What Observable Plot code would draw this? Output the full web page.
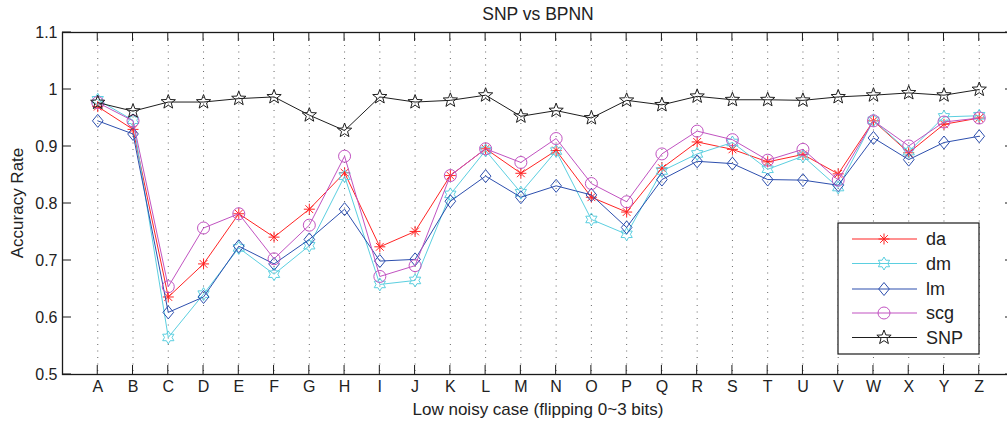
<!DOCTYPE html>
<html><head><meta charset="utf-8">
<script src="https://cdn.jsdelivr.net/npm/d3@7"></script>
<script src="https://cdn.jsdelivr.net/npm/@observablehq/plot@0.6"></script>
<style>html,body{margin:0;padding:0;background:#fff;overflow:hidden;width:1007px;height:424px}
#chart svg{display:block;max-width:none !important;width:1022px;height:424px}</style>
</head><body><div id="chart"></div>
<script>
const categories = ["A","B","C","D","E","F","G","H","I","J","K","L","M","N","O","P","Q","R","S","T","U","V","W","X","Y","Z"];
const da  = [0.970,0.930,0.636,0.694,0.782,0.741,0.790,0.854,0.724,0.751,0.849,0.896,0.853,0.893,0.811,0.785,0.862,0.908,0.895,0.873,0.886,0.852,0.945,0.889,0.939,0.950];
const dm  = [0.982,0.946,0.565,0.641,0.722,0.676,0.726,0.848,0.658,0.665,0.816,0.893,0.819,0.892,0.772,0.746,0.857,0.887,0.907,0.860,0.883,0.828,0.946,0.891,0.952,0.954];
const lm  = [0.945,0.922,0.609,0.636,0.725,0.694,0.737,0.790,0.699,0.702,0.804,0.848,0.811,0.831,0.815,0.758,0.842,0.874,0.870,0.842,0.841,0.832,0.915,0.877,0.907,0.918];
const scg = [0.977,0.945,0.654,0.757,0.782,0.703,0.762,0.883,0.672,0.691,0.849,0.896,0.872,0.914,0.835,0.803,0.887,0.927,0.912,0.876,0.895,0.841,0.945,0.901,0.943,0.950];
const snp = [0.977,0.962,0.978,0.978,0.984,0.987,0.955,0.928,0.987,0.978,0.981,0.990,0.953,0.963,0.950,0.981,0.973,0.988,0.982,0.982,0.981,0.987,0.990,0.994,0.990,1.000];
const seriesNames = ["da","dm","lm","scg","SNP"];
const seriesValues = [da, dm, lm, scg, snp];
const yTicks = [0.5,0.6,0.7,0.8,0.9,1.0,1.1];
const yTickLabels = ["0.5","0.6","0.7","0.8","0.9","1","1.1"];
const chartTitle = "SNP vs BPNN";
const xLabel = "Low noisy case (flipping 0~3 bits)";
const yLabel = "Accuracy Rate";

// custom MATLAB-like markers
const rOf = s => Math.sqrt(s / Math.PI);
const symAsterisk = {draw(c, s){const r=rOf(s); for(let k=0;k<4;k++){const a=k*Math.PI/4; c.moveTo(r*Math.cos(a), r*Math.sin(a)); c.lineTo(-r*Math.cos(a), -r*Math.sin(a));}}};
function starSym(n, ratio){return {draw(c, s){const r=rOf(s); for(let k=0;k<2*n;k++){const a=-Math.PI/2+k*Math.PI/n; const rr=k%2?r*ratio:r; const px=rr*Math.cos(a), py=rr*Math.sin(a); if(k===0) c.moveTo(px,py); else c.lineTo(px,py);} c.closePath();}};}
const symHex = starSym(6, 0.58);
const symPenta = starSym(5, 0.42);
const symDiamond = {draw(c, s){const r=rOf(s); c.moveTo(0,-r); c.lineTo(0.82*r,0); c.lineTo(0,r); c.lineTo(-0.82*r,0); c.closePath();}};
const symCircle = {draw(c, s){const r=rOf(s); c.moveTo(r,0); c.arc(0,0,r,0,2*Math.PI);}};

const styles = {
  da:  {color:"#ff2424", sym:symAsterisk, r:5.5},
  dm:  {color:"#5bcfe0", sym:symHex, r:6.5},
  lm:  {color:"#2d4fae", sym:symDiamond, r:6.5},
  scg: {color:"#c153c1", sym:symCircle, r:6},
  SNP: {color:"#1e1e1e", sym:symPenta, r:7.5}
};

(function draw(){
const rows = seriesNames.map((name, si) => seriesValues[si].map((v, i) => ({series:name, i:i+1, v})));
const xIdx = categories.map((_, i) => i + 1);

const marks = [
  Plot.gridX(xIdx, {stroke:"#555", strokeOpacity:0.9, strokeDasharray:"1,5.5", strokeWidth:1}),
  Plot.axisX(xIdx, {tickSize:0, tickPadding:6, tickFormat: d => categories[d-1], fontSize:16, label:null}),
  Plot.axisY(yTicks, {tickSize:0, tickPadding:5, tickFormat: d => yTickLabels[yTicks.indexOf(d)], fontSize:16, label:null})
];
rows.forEach(r => {
  const st = styles[r[0].series];
  marks.push(Plot.line(r, {x:"i", y:"v", stroke:st.color, strokeWidth:1}));
  marks.push(Plot.dot(r, {x:"i", y:"v", symbol:st.sym, r:st.r, stroke:st.color, fill:"none", strokeWidth:1}));
});
marks.push(Plot.frame({stroke:"#1a1a1a", strokeWidth:1.3}));

const plot = Plot.plot({
  width: 1022, height: 424,
  marginTop: 32, marginBottom: 50, marginLeft: 62, marginRight: 8,
  style: {fontFamily: "'Liberation Sans', Arial, sans-serif", color:"#222", background:"#fff", maxWidth:"none"},
  x: {type:"linear", domain:[0, 27]},
  y: {domain:[0.5, 1.1]},
  marks
});
document.getElementById("chart").appendChild(plot);

const svg = d3.select(plot);
const xs = plot.scale("x"), ys = plot.scale("y");
const X = v => xs.apply(v), Y = v => ys.apply(v);
const pTop = Y(1.1), pBot = Y(0.5), pLeft = X(0), pRight = X(27);
const tk = svg.append("g").attr("stroke", "#1a1a1a").attr("stroke-width", 1);
xIdx.forEach(i => {
  tk.append("line").attr("x1", X(i)).attr("x2", X(i)).attr("y1", pBot).attr("y2", pBot - 9);
  tk.append("line").attr("x1", X(i)).attr("x2", X(i)).attr("y1", pTop).attr("y2", pTop + 9);
});
yTicks.forEach(v => {
  tk.append("line").attr("x1", pLeft).attr("x2", pLeft + 9).attr("y1", Y(v)).attr("y2", Y(v));
  tk.append("line").attr("x1", pRight).attr("x2", pRight - 9).attr("y1", Y(v)).attr("y2", Y(v));
});
const font = "'Liberation Sans', Arial, sans-serif";
svg.append("text").attr("x", (pLeft + pRight) / 2).attr("y", 20).attr("text-anchor", "middle")
  .attr("font-family", font).attr("font-size", 17.5).attr("fill", "#222").text(chartTitle);
svg.append("text").attr("x", (pLeft + pRight) / 2).attr("y", 415).attr("text-anchor", "middle")
  .attr("font-family", font).attr("font-size", 17).attr("fill", "#222").text(xLabel);
svg.append("text").attr("transform", `translate(23,${(pTop + pBot) / 2}) rotate(-90)`).attr("text-anchor", "middle")
  .attr("font-family", font).attr("font-size", 17).attr("fill", "#222").text(yLabel);

// legend
const lg = svg.append("g");
lg.append("rect").attr("x", 838).attr("y", 223).attr("width", 141).attr("height", 131)
  .attr("fill", "#fff").attr("stroke", "#1a1a1a").attr("stroke-width", 1.2);
const legendY = [239, 263.5, 289, 313, 337.5];
seriesNames.forEach((name, k) => {
  const st = styles[name];
  const yy = legendY[k];
  lg.append("line").attr("x1", 852).attr("x2", 917).attr("y1", yy).attr("y2", yy).attr("stroke", st.color).attr("stroke-width", 1.2);
  lg.append("path").attr("transform", `translate(884,${yy})`)
    .attr("d", d3.symbol(st.sym, Math.PI * st.r * st.r)()).attr("fill", "none").attr("stroke", st.color).attr("stroke-width", 1);
  lg.append("text").attr("x", 926).attr("y", yy).attr("dy", "0.36em").attr("text-anchor", "start")
    .attr("font-family", font).attr("font-size", 18).attr("fill", "#222").text(name);
});
})();
</script>
</body></html>
